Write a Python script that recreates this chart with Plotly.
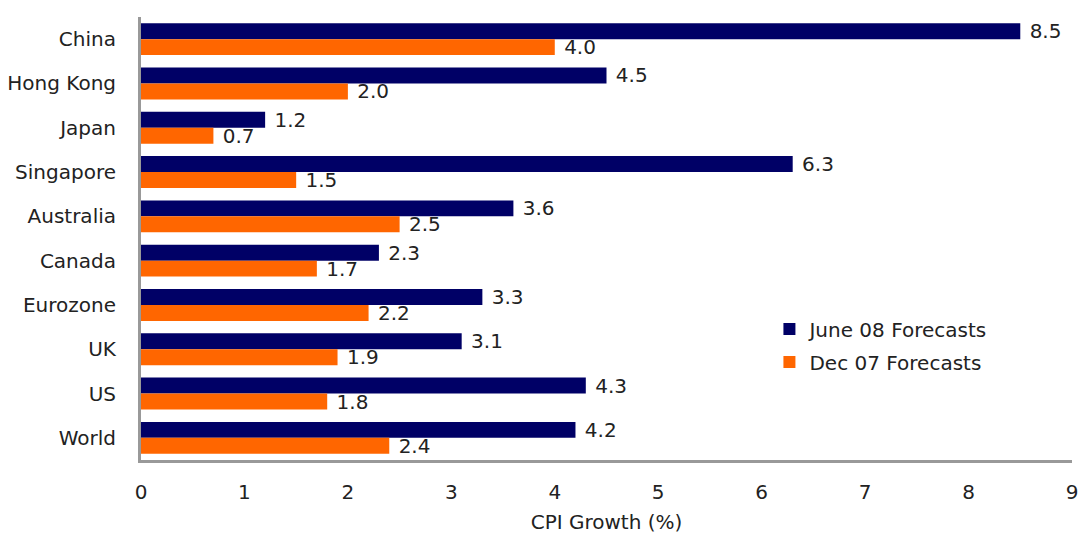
import plotly.graph_objects as go

categories = ["China", "Hong Kong", "Japan", "Singapore", "Australia", "Canada",
              "Eurozone", "UK", "US", "World"]
june08 = [8.5, 4.5, 1.2, 6.3, 3.6, 2.3, 3.3, 3.1, 4.3, 4.2]
dec07 = [4.0, 2.0, 0.7, 1.5, 2.5, 1.7, 2.2, 1.9, 1.8, 2.4]
tick_vals = [0, 1, 2, 3, 4, 5, 6, 7, 8, 9]

FONT = "DejaVu Sans"
TXT = "#222222"
FS = 20

fig = go.Figure()
fig.add_trace(go.Bar(
    y=categories, x=june08, orientation="h", name="June 08 Forecasts",
    legendgroup="a",
    marker=dict(color="#000066", line=dict(width=0)),
    texttemplate=" %{x:.1f}", textposition="outside", constraintext="none",
    textfont=dict(family=FONT, size=FS, color=TXT), cliponaxis=False,
))
fig.add_trace(go.Bar(
    y=categories, x=dec07, orientation="h", name="Dec 07 Forecasts",
    legendgroup="b",
    marker=dict(color="#FF6600", line=dict(width=0)),
    texttemplate=" %{x:.1f}", textposition="outside", constraintext="none",
    textfont=dict(family=FONT, size=FS, color=TXT), cliponaxis=False,
))

fig.update_layout(
    width=1078, height=536,
    margin=dict(l=141, r=6, t=17, b=76, autoexpand=False),
    paper_bgcolor="white", plot_bgcolor="white",
    barmode="group", bargap=0.28, bargroupgap=0,
    font=dict(family=FONT, size=FS, color=TXT),
    showlegend=True,
    legend=dict(x=0.675, y=0.34, xanchor="left", yanchor="top",
                bgcolor="rgba(0,0,0,0)", font=dict(family=FONT, size=FS, color=TXT),
                itemwidth=30, traceorder="grouped", tracegroupgap=4),
    xaxis=dict(range=[0, 9], tickvals=tick_vals, showgrid=False, zeroline=False,
               showline=True, linecolor="#999999", linewidth=3, automargin=False,
               ticks="", ticklen=0, ticklabelstandoff=12, ticklabeloverflow="allow",
               tickfont=dict(family=FONT, size=FS, color=TXT),
               title=dict(text="CPI Growth (%)", font=dict(family=FONT, size=FS, color=TXT),
                          standoff=12)),
    yaxis=dict(autorange="reversed", showgrid=False, zeroline=False,
               showline=True, linecolor="#999999", linewidth=3, ticks="",
               ticklabelstandoff=18, automargin=False,
               tickfont=dict(family=FONT, size=FS, color=TXT)),
)

fig.write_html("out.html")
